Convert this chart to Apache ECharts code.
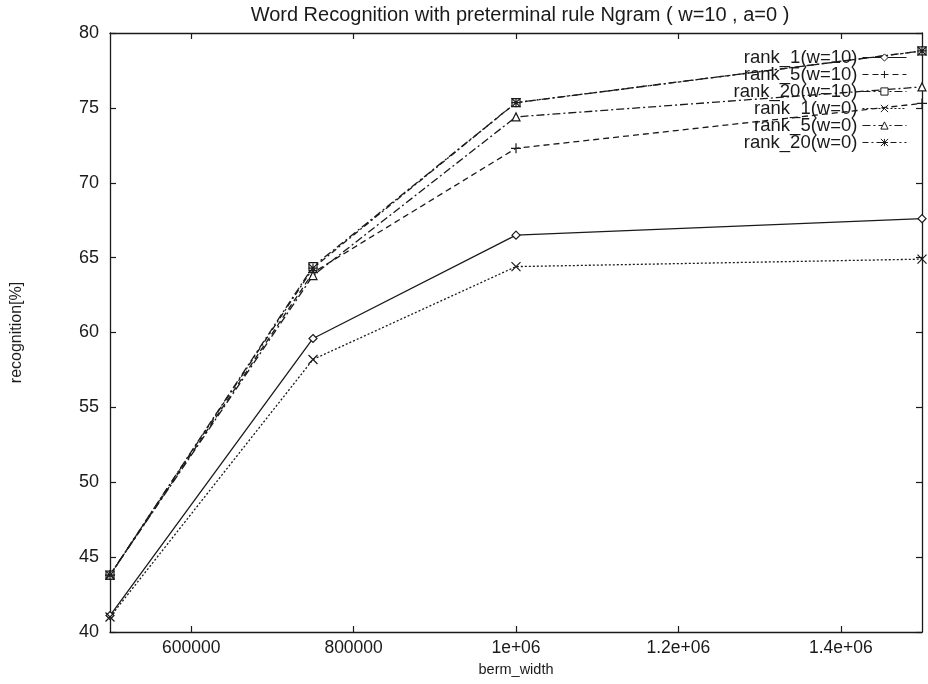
<!DOCTYPE html>
<html>
<head>
<meta charset="utf-8">
<title>Word Recognition</title>
<script src="https://cdn.jsdelivr.net/npm/echarts@6/dist/echarts.min.js"></script>
<style>
  html, body { margin: 0; padding: 0; background: #fff; }
  #chart { width: 928px; height: 684px; }
</style>
</head>
<body>
<div id="chart"></div>
<script>
// berm_width values for each measurement
const bermWidths = [500000, 750000, 1000000, 1500000];

// recognition rates [%]
const rank1W10  = [41.1, 59.6, 66.5, 67.6];
const rank5W10  = [43.8, 64.0, 72.3, 75.3];
const rank20W10 = [43.8, 64.4, 75.35, 78.8];
const rank1W0   = [41.0, 58.2, 64.4, 64.9];
const rank5W0   = [43.8, 63.8, 74.4, 76.4];
const rank20W0  = [43.8, 64.3, 75.35, 78.8];

const seriesNames = ['rank_1(w=10)', 'rank_5(w=10)', 'rank_20(w=10)', 'rank_1(w=0)', 'rank_5(w=0)', 'rank_20(w=0)'];

// x tick positions and their labels
const xTickValues = [600000, 800000, 1000000, 1200000, 1400000];
const xTickLabels = ['600000', '800000', '1e+06', '1.2e+06', '1.4e+06'];

const FONT = 'Liberation Sans, Arial, Helvetica, sans-serif';
const INK = '#1a1a1a';

const SYM_PLUS = 'path://M0,5L10,5M5,0L5,10';
const SYM_CROSS = 'path://M0,0L10,10M10,0L0,10';
const SYM_STAR = 'path://M0,0L10,10M10,0L0,10M5,0L5,10M0,5L10,5';

const styles = [
  { data: rank1W10,  dash: 'solid',        symbol: 'diamond',  size: 8 },
  { data: rank5W10,  dash: [6, 4],         symbol: SYM_PLUS,   size: 10 },
  { data: rank20W10, dash: [8, 3, 2, 3],   symbol: 'rect',     size: 8 },
  { data: rank1W0,   dash: [2, 2],         symbol: SYM_CROSS,  size: 9 },
  { data: rank5W0,   dash: [8, 3, 2, 3],   symbol: 'triangle', size: 8 },
  { data: rank20W0,  dash: [6, 3, 2, 3],   symbol: SYM_STAR,   size: 9 }
];

const series = styles.map((s, i) => ({
  name: seriesNames[i],
  type: 'line',
  clip: false,
  animation: false,
  symbol: s.symbol,
  symbolSize: s.size,
  showSymbol: true,
  data: bermWidths.map((x, k) => [x, s.data[k]]),
  lineStyle: { color: INK, width: 1.3, type: s.dash },
  itemStyle: { color: '#fff', borderColor: INK, borderWidth: 1.2 },
  emphasis: { disabled: true }
}));

const axisLine = { show: true, onZero: false, lineStyle: { color: INK, width: 1.3 } };
const tickStyle = { color: INK, width: 1.2 };

const chart = echarts.init(document.getElementById('chart'));
chart.setOption({
  backgroundColor: '#fff',
  animation: false,
  title: {
    text: 'Word Recognition with preterminal rule Ngram ( w=10 , a=0 )',
    left: 515,
    textAlign: 'center',
    top: 0,
    textStyle: { fontFamily: FONT, fontSize: 20, fontWeight: 'normal', color: INK }
  },
  legend: {
    data: seriesNames,
    orient: 'vertical',
    right: 21,
    top: 48,
    padding: 0,
    align: 'right',
    itemWidth: 44,
    itemHeight: 9,
    itemGap: -2,
    selectedMode: false,
    lineStyle: { width: 1.1 },
    itemStyle: { borderWidth: 1 },
    textStyle: { fontFamily: FONT, fontSize: 18.5, lineHeight: 17, color: INK, padding: [0, 0, 0, 0] }
  },
  grid: { left: 110, right: 6, top: 33, bottom: 52 },
  xAxis: [
    {
      type: 'value',
      min: 500000,
      max: 1500000,
      name: 'berm_width',
      nameLocation: 'middle',
      nameGap: 30,
      nameTextStyle: { fontFamily: FONT, fontSize: 14.5, color: INK },
      axisLine: axisLine,
      axisTick: { show: true, inside: true, length: 6, lineStyle: tickStyle, customValues: xTickValues },
      axisLabel: {
        fontFamily: FONT, fontSize: 17.5, color: INK, margin: 7,
        customValues: xTickValues,
        formatter: v => xTickLabels[xTickValues.indexOf(v)]
      },
      splitLine: { show: false }
    },
    {
      type: 'value',
      position: 'top',
      min: 500000,
      max: 1500000,
      axisLine: axisLine,
      axisTick: { show: true, inside: true, length: 6, lineStyle: tickStyle, customValues: xTickValues },
      axisLabel: { show: false },
      splitLine: { show: false }
    }
  ],
  yAxis: [
    {
      type: 'value',
      min: 40,
      max: 80,
      interval: 5,
      name: 'recognition[%]',
      nameLocation: 'middle',
      nameGap: 85,
      nameTextStyle: { fontFamily: FONT, fontSize: 16, color: INK },
      axisLine: axisLine,
      axisTick: { show: true, inside: true, length: 6, lineStyle: tickStyle },
      axisLabel: { fontFamily: FONT, fontSize: 18, color: INK, margin: 11 },
      splitLine: { show: false }
    },
    {
      type: 'value',
      position: 'right',
      min: 40,
      max: 80,
      interval: 5,
      axisLine: axisLine,
      axisTick: { show: true, inside: true, length: 6, lineStyle: tickStyle },
      axisLabel: { show: false },
      splitLine: { show: false }
    }
  ],
  series: series
});
</script>
</body>
</html>
